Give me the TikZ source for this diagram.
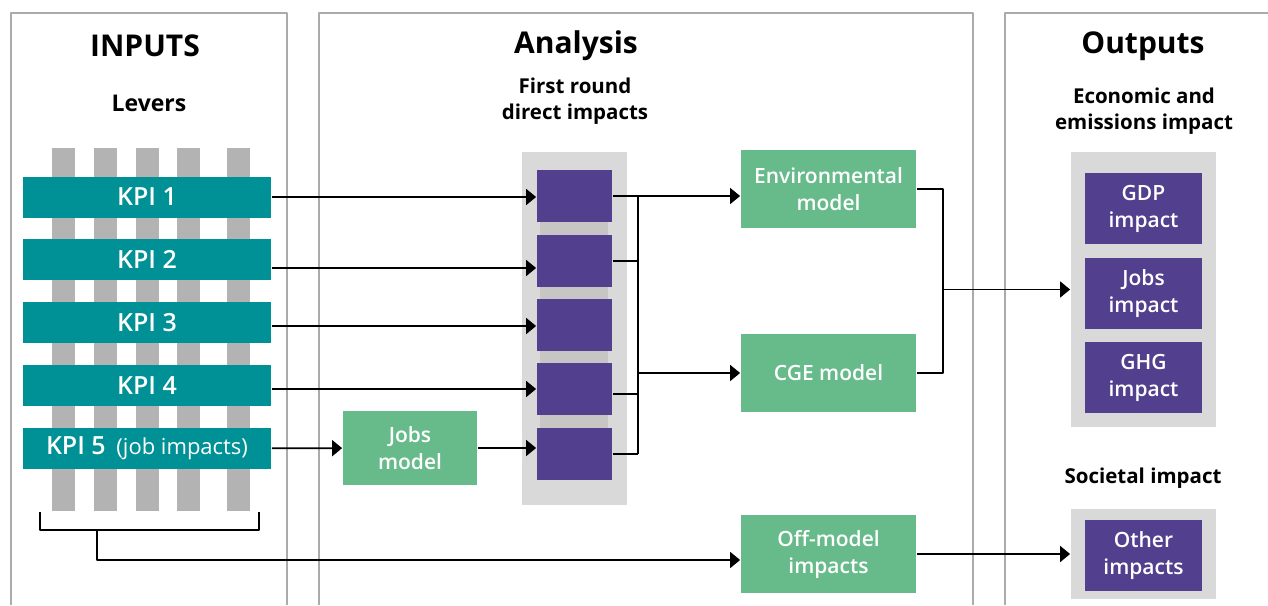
\documentclass[tikz,border=0pt]{standalone}
\usepackage{fontspec}
\setmainfont{Open Sans}
\newfontfamily\semib{Open Sans Semibold}
\usetikzlibrary{arrows.meta}
\definecolor{kpiteal}{HTML}{009196}
\definecolor{modgreen}{HTML}{67BB8B}
\definecolor{impurple}{HTML}{523F8E}
\definecolor{traygray}{HTML}{D9D9D9}
\definecolor{stripgray}{HTML}{C8C6C4}
\definecolor{bargray}{HTML}{B3B3B3}
\definecolor{panelgray}{HTML}{ABABAB}
\begin{document}
\begin{tikzpicture}[x=1pt,y=-1pt,>={Stealth[inset=0pt,length=10pt,width=16pt]},line width=1.8pt,line join=round,
  title/.style={font=\bfseries\fontsize{30}{36}\selectfont},
  subtitle/.style={align=center,font=\bfseries\fontsize{20.5}{26.5}\selectfont},
  panel/.style={draw=panelgray,line width=1.3pt},
  tray/.style={fill=traygray,inner sep=0pt},
  box/.style={inner sep=0pt,align=center,text=white,font=\semib\fontsize{21}{27}\selectfont},
  kpi/.style={box,fill=kpiteal,minimum width=248pt,minimum height=41pt,font=\semib\fontsize{25}{30}\selectfont},
  model/.style={box,fill=modgreen,minimum width=175pt,minimum height=78pt},
  dbox/.style={box,fill=impurple,minimum width=75pt,minimum height=52pt},
  obox/.style={box,fill=impurple,minimum width=117pt,minimum height=71pt}]
\useasboundingbox (0,0) rectangle (1268,605);
\def\barw{23} \def\bartop{148} \def\barbot{511}
% column frames, open at the bottom
\draw[panel] (11,605)--(11,13)--(287,13)--(287,605);
\draw[panel] (319,605)--(319,13)--(973,13)--(973,605);
\draw[panel] (1005,605)--(1005,13)--(1268,13);
\node[title] at (145,46) {INPUTS};
\node[title] at (576,46) {Analysis};
\node[title] at (1143,46) {Outputs};
\node[subtitle,font=\bfseries\fontsize{23}{28}\selectfont] at (149,103) {Levers};
\node[subtitle] at (575,101) {First round\\direct impacts};
\node[subtitle] at (1144,111) {Economic and\\emissions impact};
\node[subtitle] at (1143,478) {Societal impact};
% levers
\foreach \x in {52,94,136,177,227} \fill[bargray] (\x,\bartop) rectangle (\x+\barw,\barbot);
\foreach \i/\y in {1/197,2/259.5,3/322.5,4/385.5} \node[kpi] (k\i) at (147,\y) {KPI \i};
\node[kpi] (k5) at (147,448.5) {KPI 5\, {\normalfont\fontsize{22}{26}\selectfont(job impacts)}};
% first round direct impacts
\node[tray,minimum width=105pt,minimum height=353pt] (fr) at (574.5,328.5) {};
\fill[stripgray] (540,170) rectangle (608,480);
\foreach \i/\y in {1/196,2/261,3/325,4/389,5/454} \node[dbox] (d\i) at (574.5,\y) {};
\node[model,minimum width=134pt,minimum height=74pt] (jm) at (410,448) {Jobs\\model};
\node[model] (env) at (828.5,189) {Environmental\\model};
\node[model] (cge) at (828.5,373) {CGE model};
\node[model] (offm) at (828.5,554) {Off-model\\impacts};
% outputs
\node[tray,minimum width=145pt,minimum height=275pt] (econ) at (1143.5,289.5) {};
\node[obox] (gdp) at (1143.5,208.5) {GDP\\impact};
\node[obox] (jobsi) at (1143.5,293.5) {Jobs\\impact};
\node[obox] (ghg) at (1143.5,377.5) {GHG\\impact};
\node[tray,minimum width=145pt,minimum height=90pt] (soc) at (1143.5,554) {};
\node[obox] (other) at (1143.5,555.5) {Other\\impacts};
% connectors
\foreach \i/\s in {1/0,2/-8.5,3/-3.5,4/-3.5} \draw[->] ([yshift=\s pt]k\i.east) -- ([yshift=\s pt]k\i.east -| d\i.west);
\draw[->] (k5) -- (jm);
\draw[->] (jm) -- (jm -| d5.west);
\draw[->] (d1.east) -- (d1.east -| env.west);
\coordinate (bus) at (638,196);
\draw (d1.east -| bus) -- (d5.east -| bus);
\foreach \i/\s in {2/0,4/-5,5/0} \draw ([yshift=\s pt]d\i.east) -- ([yshift=\s pt]d\i.east -| bus);
\draw[->] (bus |- cge.west) -- (cge.west);
\coordinate (jn) at (943,289.5);
\draw (env.east) -| (jn) |- (cge.east);
\draw[->] (jn) -- (jn -| econ.west);
\coordinate (bl) at (40,512); \coordinate (br) at (259,512); \coordinate (bs) at (97,530);
\draw (bl) |- (br |- bs) -- (br);
\draw[->] (bs) |- ([yshift=-6pt]offm.west);
\draw[->] (offm) -- (offm -| soc.west);
\end{tikzpicture}
\end{document}
